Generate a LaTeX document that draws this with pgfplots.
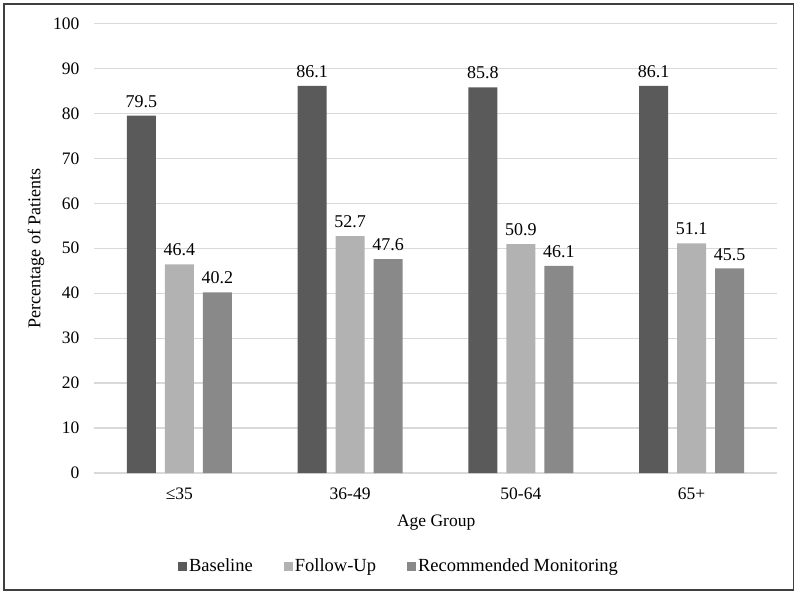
\documentclass[border=0pt]{standalone}
\usepackage{fontspec}
\setmainfont{Liberation Serif}
\usepackage{pgfplots}
\pgfplotsset{compat=1.18}
\definecolor{cBase}{HTML}{5A5A5A}
\definecolor{cFollow}{HTML}{B2B2B2}
\definecolor{cRec}{HTML}{898989}
\definecolor{gridgray}{HTML}{D9D9D9}
\definecolor{framegray}{HTML}{3F3F3F}
\begin{document}
\begin{tikzpicture}
\useasboundingbox (0pt,0pt) rectangle (800pt,595pt);
\draw[framegray, line width=1.6pt] (3.8pt,4.8pt) rectangle (793.5pt,591.2pt);
\begin{axis}[
  at={(94pt,122pt)}, anchor=south west,
  scale only axis, width=683pt, height=449.5pt,
  ybar=9pt, bar width=29pt,
  xmin=-0.5, xmax=3.5, ymin=0, ymax=100,
  xtick={0,1,2,3}, xticklabels={≤35,36-49,50-64,65+},
  ytick={0,10,...,100},
  separate axis lines,
  axis x line*=bottom, axis y line*=left,
  x axis line style={draw=gridgray, line width=1.3pt, -},
  y axis line style={draw=none},
  major tick length=0pt,
  ymajorgrids, grid style={gridgray, line width=1.3pt},
  tick label style={font=\fontsize{17.5}{20}\selectfont, black},
  /pgf/number format/assume math mode=true,
  yticklabel style={xshift=-11pt},
  xticklabel style={yshift=-11pt},
  xlabel={Age Group},
  ylabel={Percentage of Patients},
  every axis x label/.style={at={(axis description cs:0.501,-0.111)}, anchor=center, font=\fontsize{17.5}{20}\selectfont},
  every axis y label/.style={at={(axis description cs:-0.085,0.5)}, rotate=90, anchor=center, font=\fontsize{18}{20}\selectfont},
  nodes near coords={\pgfmathprintnumber[fixed,fixed zerofill,precision=1,assume math mode=true]{\pgfplotspointmeta}},
  every node near coord/.append style={font=\fontsize{18}{20}\selectfont, black, anchor=south, inner sep=0pt, yshift=8pt},
  legend columns=3,
  legend style={draw=none, at={(axis description cs:0.4466,-0.207)}, anchor=center,
    font=\fontsize{18.5}{20}\selectfont,
    /tikz/every even column/.append style={column sep=29pt}},
  legend image code/.code={\fill[#1] (0pt,-4.5pt) rectangle (9pt,4.5pt);},
]
\addplot[fill=cBase, draw=none] coordinates {(0,79.5) (1,86.1) (2,85.8) (3,86.1)};
\addplot[fill=cFollow, draw=none] coordinates {(0,46.4) (1,52.7) (2,50.9) (3,51.1)};
\addplot[fill=cRec, draw=none] coordinates {(0,40.2) (1,47.6) (2,46.1) (3,45.5)};
\legend{Baseline,Follow-Up,Recommended Monitoring}
\end{axis}
\end{tikzpicture}
\end{document}
